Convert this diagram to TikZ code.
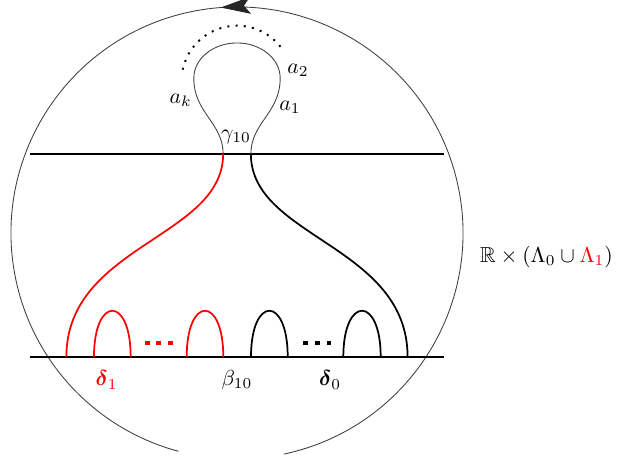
\documentclass[tikz,border=0pt]{standalone}
\usepackage{amsmath,amssymb}
\usetikzlibrary{arrows.meta,decorations.markings}

\begin{document}
\begin{tikzpicture}[
	strand/.style={ thick },
	redstrand/.style={ thick, red },
	bulb/.style={ thin, black!75 },
	bigdots/.style={ line width=2.2pt, dash pattern=on 2.2pt off 3.2pt },
	smalldots/.style={ line width=0.9pt, dash pattern=on 0.9pt off 2.9pt },
	lbl/.style={ inner sep=1pt }
]
\useasboundingbox (-3.841,-1.588) rectangle (6.256,5.786);

% the circle with its arrow
\begin{scope}[shift={(0,2.01)}]
	\draw[thin, black!75, postaction={decorate},
		decoration={markings, mark=at position 0.517 with {\arrow[black!85]{Stealth[length=13.8pt,width=7.8pt,inset=3pt]}}}]
		(282:3.663) arc (282:615:3.663);
\end{scope}

% the two levels
\coordinate (bl) at (-3.355,0);
\coordinate (br) at (3.355,0);
\coordinate (tl) at (-3.355,3.29);
\coordinate (tr) at (3.355,3.29);
\draw[strand] (bl) -- (br);
\draw[strand] (tl) -- (tr);

% long strands
\coordinate (r0) at (-2.765,0);
\coordinate (r1) at (-0.225,3.29);
\coordinate (k0) at (2.765,0);
\coordinate (k1) at (0.225,3.29);
\draw[redstrand] (r0) .. controls (-2.765,1.815) and (-0.225,1.931) .. (r1);
\draw[strand] (k0) .. controls (2.765,1.815) and (0.225,1.931) .. (k1);

% the loop above
\draw[bulb] (r1) .. controls (-0.225,3.8) and (-0.7,3.95) .. (-0.7,4.52)
	arc (180:0:0.7 and 0.57) .. controls (0.7,3.95) and (0.225,3.8) .. (k1);
\draw[smalldots] (168:0.9) ++(0,4.47) arc (168:36:0.9);

% small caps at the bottom
\draw[redstrand] (-2.318,0) .. controls (-2.318,1) and (-1.723,1) .. (-1.723,0);
\draw[redstrand] (-0.815,0) .. controls (-0.815,1) and (-0.222,1) .. (-0.222,0);
\draw[strand] (0.227,0) .. controls (0.227,1) and (0.822,1) .. (0.822,0);
\draw[strand] (1.723,0) .. controls (1.723,1) and (2.329,1) .. (2.329,0);
\draw[bigdots, red] (-1.495,0.227) -- (-1.045,0.227);
\draw[bigdots] (1.075,0.227) -- (1.525,0.227);

% labels
\node[lbl] at (0.989,4.652) (la2) {$a_2$};
\node[lbl] at (0.859,4.05) (la1) {$a_1$};
\node[lbl] at (-0.911,4.165) (lak) {$a_k$};
\node[lbl] at (-0.016,3.57) (lgamma) {$\gamma_{10}$};
\node[lbl, red] at (-2.112,-0.37) (ldelta1) {$\boldsymbol{\delta}_1$};
\node[lbl] at (0,-0.37) (lbeta) {$\beta_{10}$};
\node[lbl] at (1.51,-0.37) (ldelta0) {$\boldsymbol{\delta}_0$};
\node[lbl] at (5.016,1.62) (lspace) {$\mathbb{R}\times(\Lambda_0\cup{\color{red}\Lambda_1})$};

\end{tikzpicture}
\end{document}
